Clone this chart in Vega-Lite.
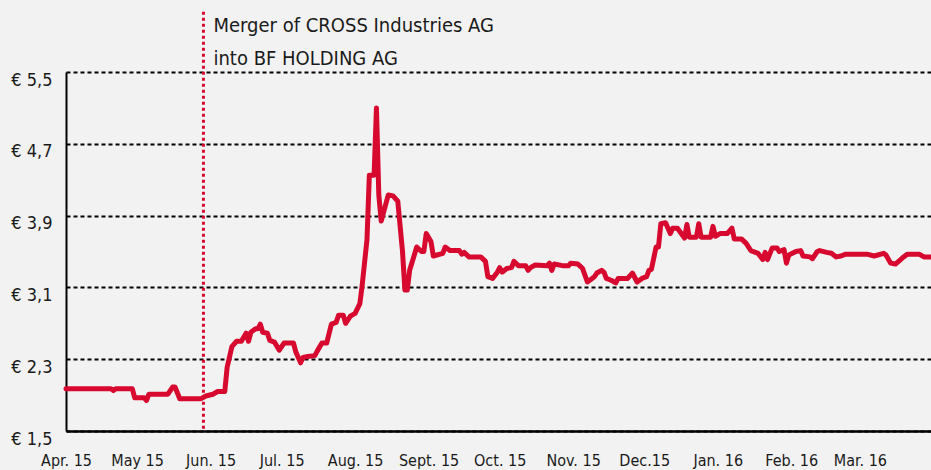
{
  "$schema": "https://vega.github.io/schema/vega-lite/v6.json",
  "width": 865,
  "height": 359,
  "autosize": {"type": "none"},
  "padding": {"left": 66, "top": 72, "right": 0, "bottom": 39},
  "background": "#f2f2f2",
  "config": {
    "view": {"stroke": null},
    "font": "Liberation Sans Narrow, Arial Narrow, DejaVu Sans Condensed, sans-serif"
  },
  "layer": [
    {
      "data": {
        "values": [
          {"date": "2015-04-01", "price": 1.97},
          {"date": "2015-04-20", "price": 1.97},
          {"date": "2015-04-21", "price": 1.95},
          {"date": "2015-04-22", "price": 1.97},
          {"date": "2015-04-29", "price": 1.97},
          {"date": "2015-04-30", "price": 1.87},
          {"date": "2015-05-04", "price": 1.87},
          {"date": "2015-05-05", "price": 1.84},
          {"date": "2015-05-06", "price": 1.91},
          {"date": "2015-05-14", "price": 1.91},
          {"date": "2015-05-16", "price": 1.99},
          {"date": "2015-05-17", "price": 1.99},
          {"date": "2015-05-19", "price": 1.86},
          {"date": "2015-05-28", "price": 1.86},
          {"date": "2015-05-30", "price": 1.89},
          {"date": "2015-06-02", "price": 1.91},
          {"date": "2015-06-04", "price": 1.94},
          {"date": "2015-06-07", "price": 1.94},
          {"date": "2015-06-08", "price": 2.21},
          {"date": "2015-06-10", "price": 2.44},
          {"date": "2015-06-11", "price": 2.47},
          {"date": "2015-06-12", "price": 2.50},
          {"date": "2015-06-14", "price": 2.50},
          {"date": "2015-06-16", "price": 2.59},
          {"date": "2015-06-17", "price": 2.50},
          {"date": "2015-06-18", "price": 2.60},
          {"date": "2015-06-20", "price": 2.64},
          {"date": "2015-06-21", "price": 2.64},
          {"date": "2015-06-22", "price": 2.69},
          {"date": "2015-06-23", "price": 2.60},
          {"date": "2015-06-25", "price": 2.59},
          {"date": "2015-06-26", "price": 2.51},
          {"date": "2015-06-28", "price": 2.49},
          {"date": "2015-06-30", "price": 2.40},
          {"date": "2015-07-02", "price": 2.48},
          {"date": "2015-07-06", "price": 2.48},
          {"date": "2015-07-07", "price": 2.38},
          {"date": "2015-07-09", "price": 2.26},
          {"date": "2015-07-10", "price": 2.32},
          {"date": "2015-07-12", "price": 2.33},
          {"date": "2015-07-15", "price": 2.34},
          {"date": "2015-07-16", "price": 2.39},
          {"date": "2015-07-18", "price": 2.48},
          {"date": "2015-07-20", "price": 2.48},
          {"date": "2015-07-22", "price": 2.69},
          {"date": "2015-07-24", "price": 2.71},
          {"date": "2015-07-25", "price": 2.79},
          {"date": "2015-07-27", "price": 2.79},
          {"date": "2015-07-28", "price": 2.70},
          {"date": "2015-07-30", "price": 2.78},
          {"date": "2015-08-01", "price": 2.81},
          {"date": "2015-08-03", "price": 2.92},
          {"date": "2015-08-04", "price": 3.13},
          {"date": "2015-08-06", "price": 3.63},
          {"date": "2015-08-07", "price": 4.35},
          {"date": "2015-08-09", "price": 4.35},
          {"date": "2015-08-10", "price": 5.10},
          {"date": "2015-08-11", "price": 4.13},
          {"date": "2015-08-12", "price": 3.84},
          {"date": "2015-08-15", "price": 4.13},
          {"date": "2015-08-17", "price": 4.12},
          {"date": "2015-08-19", "price": 4.06},
          {"date": "2015-08-21", "price": 3.50},
          {"date": "2015-08-22", "price": 3.07},
          {"date": "2015-08-23", "price": 3.07},
          {"date": "2015-08-24", "price": 3.29},
          {"date": "2015-08-27", "price": 3.55},
          {"date": "2015-08-29", "price": 3.50},
          {"date": "2015-08-30", "price": 3.50},
          {"date": "2015-08-31", "price": 3.70},
          {"date": "2015-09-02", "price": 3.61},
          {"date": "2015-09-03", "price": 3.45},
          {"date": "2015-09-07", "price": 3.48},
          {"date": "2015-09-08", "price": 3.55},
          {"date": "2015-09-10", "price": 3.51},
          {"date": "2015-09-14", "price": 3.51},
          {"date": "2015-09-15", "price": 3.47},
          {"date": "2015-09-16", "price": 3.49},
          {"date": "2015-09-18", "price": 3.44},
          {"date": "2015-09-23", "price": 3.44},
          {"date": "2015-09-25", "price": 3.39},
          {"date": "2015-09-26", "price": 3.22},
          {"date": "2015-09-28", "price": 3.20},
          {"date": "2015-09-30", "price": 3.27},
          {"date": "2015-10-01", "price": 3.32},
          {"date": "2015-10-02", "price": 3.27},
          {"date": "2015-10-04", "price": 3.31},
          {"date": "2015-10-06", "price": 3.32},
          {"date": "2015-10-07", "price": 3.39},
          {"date": "2015-10-09", "price": 3.34},
          {"date": "2015-10-12", "price": 3.34},
          {"date": "2015-10-13", "price": 3.29},
          {"date": "2015-10-14", "price": 3.32},
          {"date": "2015-10-16", "price": 3.35},
          {"date": "2015-10-21", "price": 3.34},
          {"date": "2015-10-22", "price": 3.37},
          {"date": "2015-10-23", "price": 3.29},
          {"date": "2015-10-24", "price": 3.36},
          {"date": "2015-10-28", "price": 3.34},
          {"date": "2015-10-30", "price": 3.34},
          {"date": "2015-10-31", "price": 3.37},
          {"date": "2015-11-03", "price": 3.36},
          {"date": "2015-11-05", "price": 3.31},
          {"date": "2015-11-07", "price": 3.16},
          {"date": "2015-11-09", "price": 3.20},
          {"date": "2015-11-10", "price": 3.22},
          {"date": "2015-11-11", "price": 3.26},
          {"date": "2015-11-13", "price": 3.29},
          {"date": "2015-11-14", "price": 3.27},
          {"date": "2015-11-15", "price": 3.20},
          {"date": "2015-11-17", "price": 3.18},
          {"date": "2015-11-19", "price": 3.15},
          {"date": "2015-11-20", "price": 3.20},
          {"date": "2015-11-24", "price": 3.20},
          {"date": "2015-11-26", "price": 3.26},
          {"date": "2015-11-28", "price": 3.16},
          {"date": "2015-11-30", "price": 3.20},
          {"date": "2015-12-02", "price": 3.22},
          {"date": "2015-12-03", "price": 3.29},
          {"date": "2015-12-04", "price": 3.30},
          {"date": "2015-12-06", "price": 3.55},
          {"date": "2015-12-07", "price": 3.55},
          {"date": "2015-12-08", "price": 3.81},
          {"date": "2015-12-10", "price": 3.82},
          {"date": "2015-12-12", "price": 3.70},
          {"date": "2015-12-13", "price": 3.76},
          {"date": "2015-12-15", "price": 3.76},
          {"date": "2015-12-18", "price": 3.65},
          {"date": "2015-12-19", "price": 3.80},
          {"date": "2015-12-20", "price": 3.66},
          {"date": "2015-12-23", "price": 3.66},
          {"date": "2015-12-24", "price": 3.81},
          {"date": "2015-12-25", "price": 3.66},
          {"date": "2015-12-29", "price": 3.66},
          {"date": "2015-12-30", "price": 3.78},
          {"date": "2015-12-31", "price": 3.67},
          {"date": "2016-01-02", "price": 3.70},
          {"date": "2016-01-05", "price": 3.70},
          {"date": "2016-01-07", "price": 3.76},
          {"date": "2016-01-08", "price": 3.64},
          {"date": "2016-01-11", "price": 3.64},
          {"date": "2016-01-13", "price": 3.59},
          {"date": "2016-01-15", "price": 3.51},
          {"date": "2016-01-18", "price": 3.48},
          {"date": "2016-01-20", "price": 3.41},
          {"date": "2016-01-21", "price": 3.49},
          {"date": "2016-01-22", "price": 3.41},
          {"date": "2016-01-24", "price": 3.54},
          {"date": "2016-01-26", "price": 3.54},
          {"date": "2016-01-27", "price": 3.50},
          {"date": "2016-01-29", "price": 3.52},
          {"date": "2016-01-30", "price": 3.37},
          {"date": "2016-01-31", "price": 3.46},
          {"date": "2016-02-03", "price": 3.50},
          {"date": "2016-02-05", "price": 3.51},
          {"date": "2016-02-06", "price": 3.45},
          {"date": "2016-02-09", "price": 3.44},
          {"date": "2016-02-10", "price": 3.42},
          {"date": "2016-02-12", "price": 3.50},
          {"date": "2016-02-13", "price": 3.51},
          {"date": "2016-02-16", "price": 3.49},
          {"date": "2016-02-18", "price": 3.48},
          {"date": "2016-02-20", "price": 3.44},
          {"date": "2016-02-22", "price": 3.45},
          {"date": "2016-02-24", "price": 3.47},
          {"date": "2016-03-04", "price": 3.47},
          {"date": "2016-03-07", "price": 3.45},
          {"date": "2016-03-11", "price": 3.48},
          {"date": "2016-03-12", "price": 3.46},
          {"date": "2016-03-14", "price": 3.37},
          {"date": "2016-03-16", "price": 3.36},
          {"date": "2016-03-19", "price": 3.43},
          {"date": "2016-03-21", "price": 3.47},
          {"date": "2016-03-26", "price": 3.47},
          {"date": "2016-03-28", "price": 3.44},
          {"date": "2016-03-31", "price": 3.44}
        ]
      },
      "mark": {"type": "line", "color": "#d7092f", "strokeWidth": 5, "strokeJoin": "round", "strokeCap": "round"},
      "encoding": {
        "x": {
          "field": "date",
          "type": "temporal",
          "scale": {
            "type": "utc",
            "domain": [
              {"year": 2015, "month": 4, "date": 1, "utc": true},
              {"year": 2016, "month": 3, "date": 31, "utc": true}
            ]
          },
          "axis": {
            "title": null,
            "values": [
              {"year": 2015, "month": 4, "date": 1, "utc": true},
              {"year": 2015, "month": 5, "date": 1, "utc": true},
              {"year": 2015, "month": 6, "date": 1, "utc": true},
              {"year": 2015, "month": 7, "date": 1, "utc": true},
              {"year": 2015, "month": 8, "date": 1, "utc": true},
              {"year": 2015, "month": 9, "date": 1, "utc": true},
              {"year": 2015, "month": 10, "date": 1, "utc": true},
              {"year": 2015, "month": 11, "date": 1, "utc": true},
              {"year": 2015, "month": 12, "date": 1, "utc": true},
              {"year": 2016, "month": 1, "date": 1, "utc": true},
              {"year": 2016, "month": 2, "date": 1, "utc": true},
              {"year": 2016, "month": 3, "date": 1, "utc": true}
            ],
            "labelExpr": "['Jan. 16','Feb. 16','Mar. 16','Apr. 15','May 15','Jun. 15','Jul. 15','Aug. 15','Sept. 15','Oct. 15','Nov. 15','Dec.15'][utcmonth(datum.value)]",
            "ticks": false,
            "tickSize": 0,
            "grid": false,
            "labelPadding": 21,
            "labelFontSize": 16,
            "labelColor": "#1a1a1a",
            "labelOverlap": false,
            "labelFlush": false,
            "labelBound": false,
            "domainColor": "#000000",
            "domainWidth": 2.5
          }
        },
        "y": {
          "field": "price",
          "type": "quantitative",
          "scale": {"domain": [1.5, 5.5], "nice": false, "zero": false},
          "axis": {
            "title": null,
            "values": [1.5, 2.3, 3.1, 3.9, 4.7, 5.5],
            "labelExpr": "'€ ' + replace(format(datum.value, '.1f'), '.', ',')",
            "ticks": false,
            "tickSize": 0,
            "labelPadding": 14,
            "labelOffset": 8,
            "labelFontSize": 18,
            "labelColor": "#1a1a1a",
            "labelOverlap": false,
            "labelBound": false,
            "labelFlush": false,
            "domainColor": "#000000",
            "domainWidth": 2,
            "grid": true,
            "gridColor": "#000000",
            "gridDash": [4, 3],
            "gridWidth": 2
          }
        }
      }
    },
    {
      "data": {"values": [{"date": "2015-05-29", "top": 6.17, "bottom": 1.5}]},
      "layer": [
        {
          "mark": {"type": "rule", "color": "#d7092f", "strokeWidth": 3, "strokeDash": [3, 3]},
          "encoding": {
            "x": {"field": "date", "type": "temporal", "title": null},
            "y": {"field": "top", "type": "quantitative", "title": null},
            "y2": {"field": "bottom"}
          }
        },
        {
          "mark": {
            "type": "text",
            "text": ["Merger of CROSS Industries AG", "into BF HOLDING AG"],
            "align": "left",
            "baseline": "top",
            "dx": 10,
            "dy": 4,
            "fontSize": 20,
            "lineHeight": 33,
            "color": "#1a1a1a"
          },
          "encoding": {
            "x": {"field": "date", "type": "temporal", "title": null},
            "y": {"field": "top", "type": "quantitative", "title": null}
          }
        }
      ]
    }
  ]
}
